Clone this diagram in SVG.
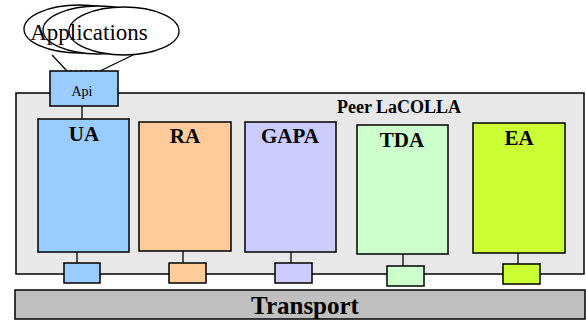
<svg xmlns="http://www.w3.org/2000/svg" width="586" height="320" viewBox="0 0 586 320" font-family="'Liberation Serif', serif">
  <style>
    .box { stroke: #000; stroke-width: 1.5; }
    .wire { stroke: #000; stroke-width: 1.3; fill: none; }
    .lbl { font-weight: bold; fill: #000; text-anchor: middle; }
    .txt { fill: #000; text-anchor: middle; }
    .app { fill: #fff; stroke: #000; stroke-width: 1.3; }
  </style>
  <rect width="586" height="320" fill="#fff"/>

  <!-- peer container -->
  <g id="peer">
    <rect class="box" x="16" y="93" width="568" height="181" fill="#e8e8e8"/>
    <text class="lbl" x="399" y="113" font-size="18">Peer LaCOLLA</text>
  </g>

  <!-- transport layer -->
  <g id="transport">
    <rect class="box" x="15" y="290" width="570" height="29" fill="#c0c0c0"/>
    <text class="lbl" x="305" y="314" font-size="25">Transport</text>
  </g>

  <!-- connectors -->
  <g id="connectors">
    <line class="wire" x1="52" y1="55" x2="67" y2="71"/>
    <line class="wire" x1="133" y1="55" x2="100" y2="71"/>
    <line class="wire" x1="70" y1="71" x2="98" y2="71" stroke-dasharray="2 3"/>
    <line class="wire" x1="82" y1="106" x2="82" y2="119"/>
    <line class="wire" x1="77" y1="252" x2="77" y2="263"/>
    <line class="wire" x1="183" y1="251" x2="183" y2="263"/>
    <line class="wire" x1="291" y1="252" x2="291" y2="263"/>
    <line class="wire" x1="403" y1="254" x2="403" y2="266"/>
    <line class="wire" x1="518" y1="253" x2="518" y2="264"/>
  </g>

  <!-- applications -->
  <g id="applications">
    <ellipse class="app" cx="79" cy="29" rx="55" ry="24"/>
    <ellipse class="app" cx="98" cy="30" rx="55" ry="24"/>
    <ellipse class="app" cx="124" cy="31" rx="55" ry="24"/>
    <text class="txt" x="89" y="40" font-size="23">Applications</text>
  </g>

  <g id="api">
    <rect class="box" x="50" y="71" width="68" height="35" fill="#99ccff"/>
    <text class="txt" x="82" y="96" font-size="14">Api</text>
  </g>

  <g id="ua">
    <rect class="box" x="38" y="119" width="91" height="133" fill="#99ccff"/>
    <text class="lbl" x="84" y="141" font-size="21">UA</text>
    <rect class="box" x="64" y="263" width="36" height="20" fill="#99ccff"/>
  </g>

  <g id="ra">
    <rect class="box" x="139" y="122" width="92" height="129" fill="#ffcc99"/>
    <text class="lbl" x="185" y="143" font-size="21">RA</text>
    <rect class="box" x="169" y="263" width="37" height="20" fill="#ffcc99"/>
  </g>

  <g id="gapa">
    <rect class="box" x="245" y="122" width="91" height="130" fill="#ccccff"/>
    <text class="lbl" x="290" y="143" font-size="21">GAPA</text>
    <rect class="box" x="275" y="263" width="37" height="20" fill="#ccccff"/>
  </g>

  <g id="tda">
    <rect class="box" x="357" y="125" width="91" height="129" fill="#ccffcc"/>
    <text class="lbl" x="402" y="147" font-size="21">TDA</text>
    <rect class="box" x="387" y="266" width="37" height="20" fill="#ccffcc"/>
  </g>

  <g id="ea">
    <rect class="box" x="473" y="123" width="92" height="130" fill="#ccff33"/>
    <text class="lbl" x="519" y="145" font-size="21">EA</text>
    <rect class="box" x="503" y="264" width="37" height="20" fill="#ccff33"/>
  </g>
</svg>
